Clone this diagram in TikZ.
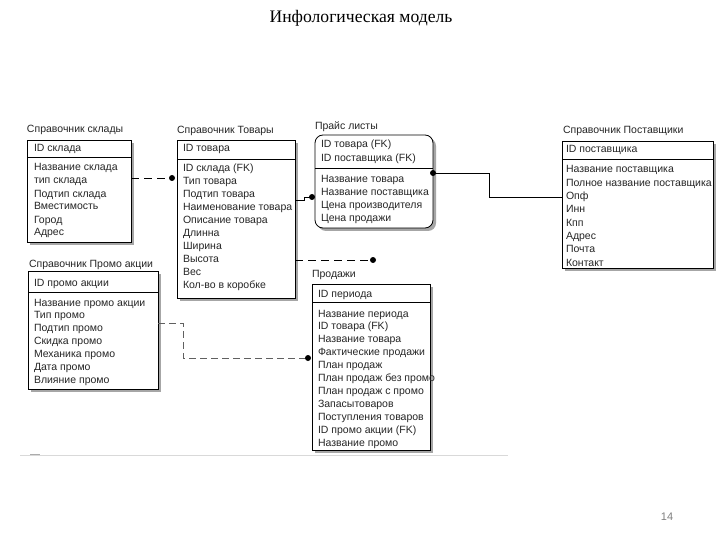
\documentclass[tikz,border=0pt]{standalone}
\usepackage{fontspec}
\setmainfont{Liberation Serif}
\newfontfamily\efont{Liberation Sans}
\usetikzlibrary{shadows,calc}
\tikzset{
 ebox/.style={draw=black, line width=0.8pt, fill=white, anchor=north west, inner sep=0pt, outer sep=0pt,
   drop shadow={shadow xshift=3pt, shadow yshift=-3pt, fill=gray!70, opacity=1}},
 etext/.style={anchor=base west, inner sep=0pt, outer sep=0pt, font=\efont\fontsize{10.5}{13}\selectfont, text=black!85},
 sepline/.style={draw=black, line width=0.8pt},
 solidline/.style={draw=black, line width=0.9pt},
 dashline/.style={draw=black, line width=0.9pt, dash pattern=on 8pt off 5pt},
 lightdash/.style={draw=gray!75!black, line width=0.7pt, dash pattern=on 7pt off 4pt},
 dotend/.style={fill=black},
}
\newcommand\entrows[5]{%
  \foreach \t [count=\i from 0] in {#5}{\node[etext] (#1-\i) at (#2,{#3+#4*\i}) {\t};}}
\begin{document}
\begin{tikzpicture}[x=1pt,y=-1pt]
\path[fill=white, use as bounding box] (0,0) rectangle (720,540);

\node[font=\fontsize{17.6}{20}\selectfont, anchor=base, inner sep=0pt] (title) at (361,23) {Инфологическая модель};

% Справочник склады
\node[etext] (skl) at (27,133) {Справочник склады};
\node[ebox, minimum width=104, minimum height=102] (sk) at (27,140) {};
\draw[sepline] (sk.west |- 0,157) -- (sk.east |- 0,157);
\entrows{skk}{34}{152}{13}{ID склада}
\entrows{ska}{34}{171}{13}{Название склада, тип склада, Подтип склада, Вместимость, Город, Адрес}

% Справочник Товары
\node[etext] (tvl) at (177,134) {Справочник Товары};
\node[ebox, minimum width=118, minimum height=158] (tv) at (177,140) {};
\draw[sepline] (tv.west |- 0,159) -- (tv.east |- 0,159);
\entrows{tvk}{183}{152}{13}{ID товара}
\entrows{tva}{183}{171.5}{13}{ID склада (FK), Тип товара, Подтип товара, Наименование товара, Описание товара, Длинна, Ширина, Высота, Вес, Кол-во в коробке}

% Прайс листы
\node[etext] (prl) at (315,130) {Прайс листы};
\node[ebox, rounded corners=8pt, minimum width=118, minimum height=93] (pr) at (315,135) {};
\draw[sepline] (pr.west |- 0,168) -- (pr.east |- 0,168);
\entrows{prk}{321}{148}{13.5}{ID товара (FK), ID поставщика (FK)}
\entrows{pra}{321}{182.5}{13}{Название товара, Название поставщика, Цена производителя, Цена продажи}

% Справочник Поставщики
\node[etext] (psl) at (563,134) {Справочник Поставщики};
\node[ebox, minimum width=151, minimum height=127] (ps) at (562,141) {};
\draw[sepline] (ps.west |- 0,159) -- (ps.east |- 0,159);
\entrows{psk}{566}{152.5}{13}{ID поставщика}
\entrows{psa}{566}{173}{13.3}{Название поставщика, Полное название поставщика, Опф, Инн, Кпп, Адрес, Почта, Контакт}

% Справочник Промо акции
\node[etext] (pml) at (29,267) {Справочник Промо акции};
\node[ebox, minimum width=130, minimum height=118] (pm) at (28,271) {};
\draw[sepline] (pm.west |- 0,292) -- (pm.east |- 0,292);
\entrows{pmk}{34}{286}{13}{ID промо акции}
\entrows{pma}{34}{306}{12.9}{Название промо акции, Тип промо, Подтип промо, Скидка промо, Механика промо, Дата промо, Влияние промо}

% Продажи
\node[etext] (pdl) at (312,277) {Продажи};
\node[ebox, minimum width=118, minimum height=166] (pd) at (312,284) {};
\draw[sepline] (pd.west |- 0,302) -- (pd.east |- 0,302);
\entrows{pdk}{318}{297}{13}{ID периода}
\entrows{pda}{318}{317}{12.9}{Название периода, ID товара (FK), Название товара, Фактические продажи, План продаж, План продаж без промо, План продаж с промо, Запасытоваров, Поступления товаров, ID промо акции (FK), Название промо}

% connectors
\coordinate (d1) at ($(tv.west |- 0,178)+(-5,0)$);
\draw[dashline] (sk.east |- 0,178) -- (d1);
\fill[dotend] (d1) circle[radius=3pt];

\coordinate (d2) at ($(pr.west |- 0,197)+(-3,0)$);
\draw[solidline] (tv.east |- 0,200) -- (304,200) -- (304,197) -- (d2);
\fill[dotend] (d2) circle[radius=3pt];

\coordinate (d3) at (pr.east |- 0,173);
\draw[solidline] (d3) -- (489,173) -- (489,197) -- (ps.west |- 0,197);
\fill[dotend] (d3) circle[radius=3pt];

\coordinate (d4) at (373,260);
\draw[dashline] (tv.east |- 0,260) -- (d4);
\fill[dotend] (d4) circle[radius=3pt];

\coordinate (d5) at ($(pd.west |- 0,358)+(-4,0)$);
\draw[lightdash] (pm.east |- 0,323) -- (183,323) -- (183,358) -- (d5);
\fill[dotend] (d5) circle[radius=3pt];

% bottom rule
\draw[gray!30, line width=0.8pt] (20,455) -- (508,455);
\draw[gray!65, line width=0.8pt] (30,454) -- (40,454);

% page number
\node[font=\efont\fontsize{11}{13}\selectfont, text=gray, anchor=base, inner sep=0pt] (pg) at (667,520) {14};
\end{tikzpicture}
\end{document}
